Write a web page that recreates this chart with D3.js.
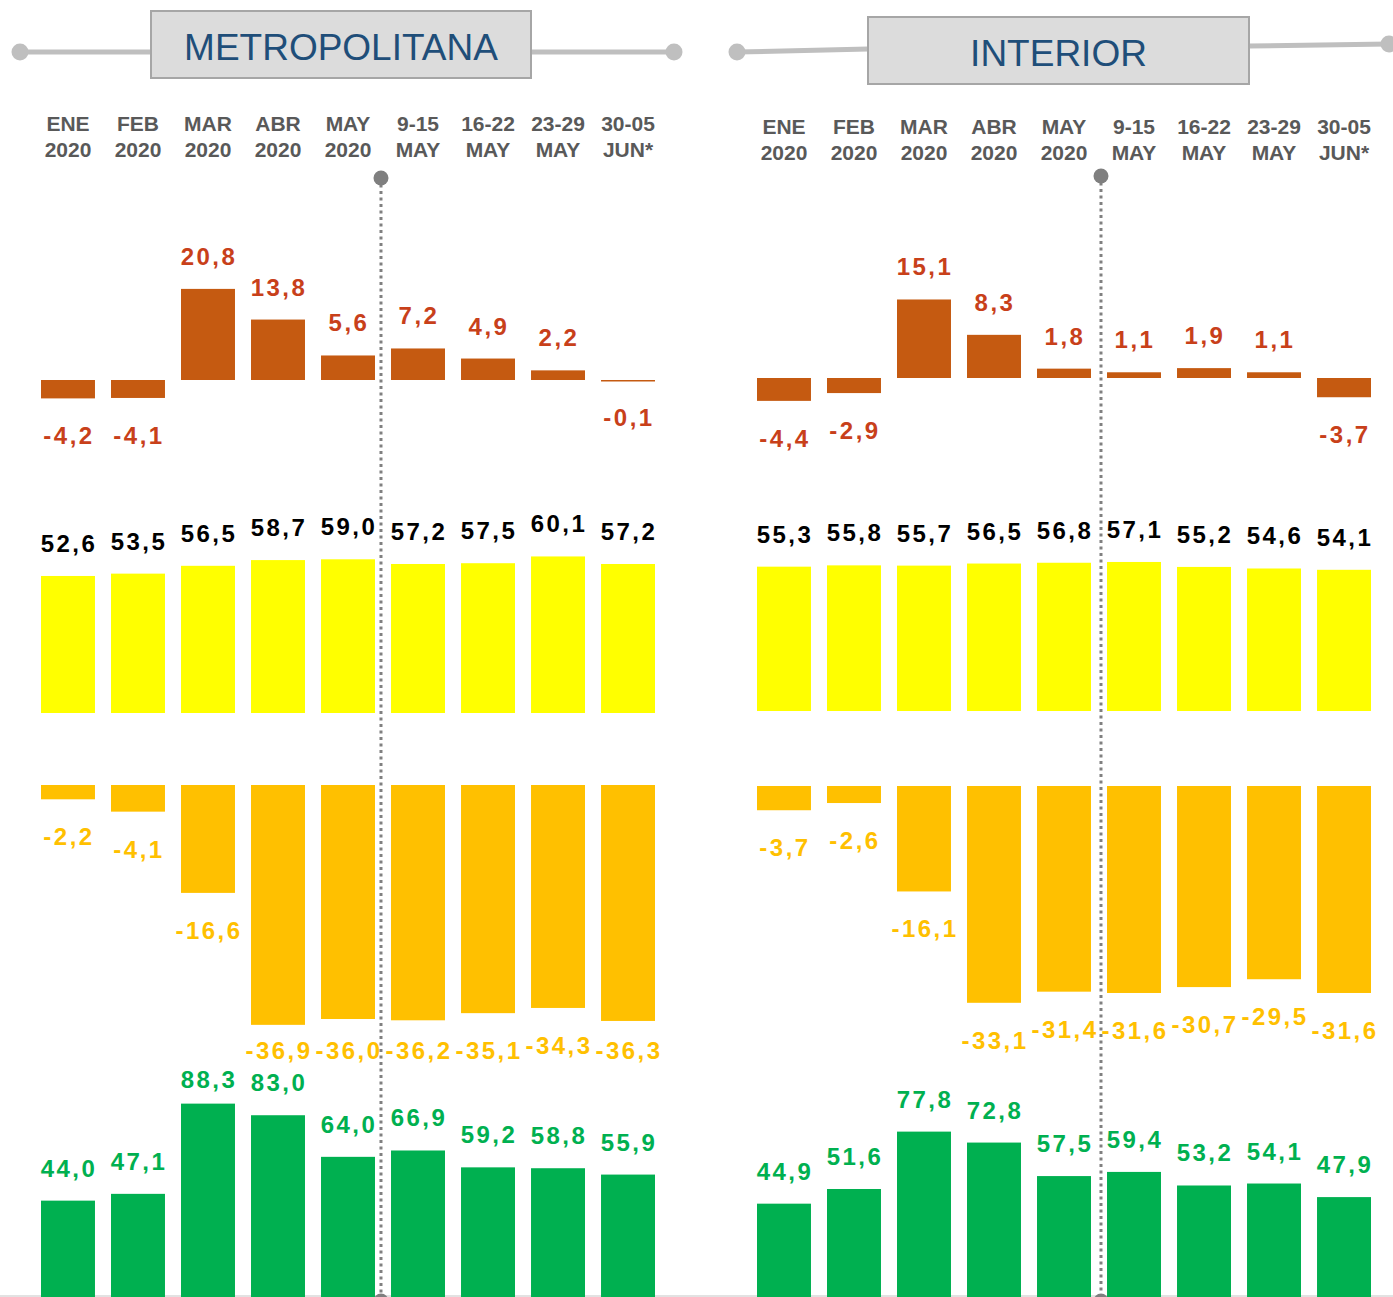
<!DOCTYPE html>
<html>
<head>
<meta charset="utf-8">
<script src="https://cdn.jsdelivr.net/npm/d3@7"></script>
<style>
  html, body { margin: 0; padding: 0; background: #fff; }
  svg { display: block; font-family: "Liberation Sans", Arial, sans-serif; }
</style>
</head>
<body>
<div id="chart"></div>
<script>
// category labels (two lines)
const catLine1 = ["ENE", "FEB", "MAR", "ABR", "MAY", "9-15", "16-22", "23-29", "30-05"];
const catLine2 = ["2020", "2020", "2020", "2020", "2020", "MAY", "MAY", "MAY", "JUN*"];

// METROPOLITANA
const metroVar = [-4.2, -4.1, 20.8, 13.8, 5.6, 7.2, 4.9, 2.2, -0.1];
const metroLevel = [52.6, 53.5, 56.5, 58.7, 59.0, 57.2, 57.5, 60.1, 57.2];
const metroNeg = [-2.2, -4.1, -16.6, -36.9, -36.0, -36.2, -35.1, -34.3, -36.3];
const metroGreen = [44.0, 47.1, 88.3, 83.0, 64.0, 66.9, 59.2, 58.8, 55.9];

// INTERIOR
const interiorVar = [-4.4, -2.9, 15.1, 8.3, 1.8, 1.1, 1.9, 1.1, -3.7];
const interiorLevel = [55.3, 55.8, 55.7, 56.5, 56.8, 57.1, 55.2, 54.6, 54.1];
const interiorNeg = [-3.7, -2.6, -16.1, -33.1, -31.4, -31.6, -30.7, -29.5, -31.6];
const interiorGreen = [44.9, 51.6, 77.8, 72.8, 57.5, 59.4, 53.2, 54.1, 47.9];

const width = 1393, height = 1297;

const fmt = d3.formatLocale({
    decimal: ",", thousands: ".", grouping: [3], currency: ["", ""], minus: "-"
}).format(".1f");

const svg = d3.select("#chart").append("svg")
    .attr("width", width)
    .attr("height", height);

// light line along the bottom
svg.append("line")
    .attr("x1", 0).attr("x2", width)
    .attr("y1", height - 1).attr("y2", height - 1)
    .attr("stroke", "#d9d9d9").attr("stroke-width", 1.5);

const panels = [
    {
        title: "METROPOLITANA", range: [41, 655],
        box: { x: 151, y: 11, w: 380, h: 67 }, titleY: 60,
        lineL: [20, 52, 151, 52], lineR: [531, 52, 674, 52],
        headY: 131, divTop: 178, divOffset: 6,
        rows: [
            { values: metroVar, zero: 380, k: 4.38, fill: "#C55A11", text: "#C8401A" },
            { values: metroLevel, zero: 713, k: 2.605, fill: "#FFFF00", text: "#000000" },
            { values: metroNeg, zero: 785, k: 6.5, fill: "#FFC000", text: "#FFC000", maxLabel: 1059 },
            { values: metroGreen, zero: 1297, k: 2.19, fill: "#00B050", text: "#00B050", minLabel: 1088 }
        ]
    },
    {
        title: "INTERIOR", range: [757, 1371],
        box: { x: 868, y: 17, w: 381, h: 67 }, titleY: 66,
        lineL: [737, 52, 868, 49], lineR: [1249, 46, 1389, 44],
        headY: 134, divTop: 176, divOffset: 10,
        rows: [
            { values: interiorVar, zero: 378, k: 5.2, fill: "#C55A11", text: "#C8401A" },
            { values: interiorLevel, zero: 711, k: 2.61, fill: "#FFFF00", text: "#000000" },
            { values: interiorNeg, zero: 786, k: 6.55, fill: "#FFC000", text: "#FFC000", maxLabel: 1059 },
            { values: interiorGreen, zero: 1302, k: 2.19, fill: "#00B050", text: "#00B050", minLabel: 1088 }
        ]
    }
];

panels.forEach(p => {
    const g = svg.append("g");

    // x scale shared by all rows
    const x = d3.scaleBand()
        .domain(catLine1)
        .range(p.range)
        .paddingInner(0.229)
        .paddingOuter(0);
    const bw = x.bandwidth();

    // header connector lines with end dots
    [p.lineL, p.lineR].forEach(l => {
        g.append("line")
            .attr("x1", l[0]).attr("y1", l[1])
            .attr("x2", l[2]).attr("y2", l[3])
            .attr("stroke", "#bfbfbf").attr("stroke-width", 5);
    });
    g.append("circle").attr("cx", p.lineL[0]).attr("cy", p.lineL[1]).attr("r", 8.5).attr("fill", "#bfbfbf");
    g.append("circle").attr("cx", p.lineR[2]).attr("cy", p.lineR[3]).attr("r", 8.5).attr("fill", "#bfbfbf");

    // title box
    g.append("rect")
        .attr("x", p.box.x).attr("y", p.box.y)
        .attr("width", p.box.w).attr("height", p.box.h)
        .attr("fill", "#dcdcdc")
        .attr("stroke", "#a6a6a6").attr("stroke-width", 2);
    g.append("text")
        .attr("x", p.box.x + p.box.w / 2)
        .attr("y", p.titleY)
        .attr("text-anchor", "middle")
        .attr("font-size", "37px")
        .attr("fill", "#1f4e79")
        .text(p.title);

    // category headers
    const head = g.selectAll(".head")
        .data(catLine1)
        .join("text")
        .attr("class", "head")
        .attr("x", d => x(d) + bw / 2)
        .attr("y", p.headY)
        .attr("text-anchor", "middle")
        .attr("font-size", "21px")
        .attr("font-weight", "bold")
        .attr("fill", "#595959");
    head.append("tspan").text(d => d);
    head.append("tspan")
        .attr("x", d => x(d) + bw / 2)
        .attr("dy", 26)
        .text((d, i) => catLine2[i]);

    // rows of bars
    p.rows.forEach(r => {
        const y = d3.scaleLinear()
            .domain([0, 10])
            .range([r.zero, r.zero - 10 * r.k]);
        const data = r.values.map((v, i) => ({ cat: catLine1[i], v: v }));

        g.append("g").selectAll("rect")
            .data(data)
            .join("rect")
            .attr("x", d => x(d.cat))
            .attr("y", d => Math.min(y(d.v), y(0)))
            .attr("width", bw)
            .attr("height", d => Math.max(Math.abs(y(d.v) - y(0)), 1.5))
            .attr("fill", r.fill);

        g.append("g").selectAll("text")
            .data(data)
            .join("text")
            .attr("x", d => x(d.cat) + bw / 2 + 1)
            .attr("y", d => {
                let ly = d.v >= 0 ? y(d.v) - 24 : y(d.v) + 46;
                if (r.maxLabel) ly = Math.min(ly, r.maxLabel);
                if (r.minLabel) ly = Math.max(ly, r.minLabel);
                return ly;
            })
            .attr("text-anchor", "middle")
            .attr("font-size", "24px")
            .attr("font-weight", "bold")
            .attr("letter-spacing", "2.5px")
            .attr("fill", r.text)
            .text(d => fmt(d.v));
    });

    // dotted divider between monthly and weekly data
    const divX = x(catLine1[4]) + bw + p.divOffset;
    g.append("line")
        .attr("x1", divX).attr("x2", divX)
        .attr("y1", p.divTop).attr("y2", height)
        .attr("stroke", "#808080").attr("stroke-width", 3)
        .attr("stroke-dasharray", "3,3.5");
    g.append("circle").attr("cx", divX).attr("cy", p.divTop).attr("r", 7.5).attr("fill", "#7f7f7f");
    g.append("circle").attr("cx", divX).attr("cy", height + 4).attr("r", 7.5).attr("fill", "#7f7f7f");
});
</script>
</body>
</html>
